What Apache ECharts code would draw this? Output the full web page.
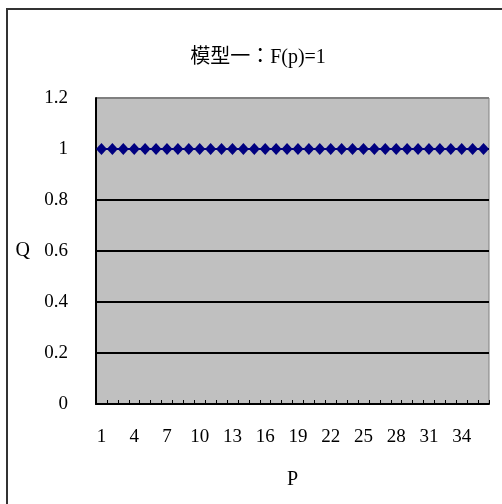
<!DOCTYPE html>
<html>
<head>
<meta charset="utf-8">
<script src="https://cdn.jsdelivr.net/npm/echarts@6/dist/echarts.min.js"></script>
<style>
  html, body { margin: 0; padding: 0; background: #fff; }
  #chart { width: 502px; height: 504px; }
</style>
</head>
<body>
<div id="chart"></div>
<script>
// Model 1: Q is constant at 1 for every P
const titleText = '模型一：F(p)=1';
const categories = ['1','2','3','4','5','6','7','8','9','10','11','12','13','14','15','16','17','18',
  '19','20','21','22','23','24','25','26','27','28','29','30','31','32','33','34','35','36'];
const qValues = [1,1,1,1,1,1,1,1,1,1,1,1,1,1,1,1,1,1,1,1,1,1,1,1,1,1,1,1,1,1,1,1,1,1,1,1];
const yMin = 0, yMax = 1.2, yStep = 0.2;
const xName = 'P', yName = 'Q';

const serif = '"Liberation Serif", "Noto Sans CJK TC", serif';
const chart = echarts.init(document.getElementById('chart'), null, { renderer: 'canvas' });

chart.setOption({
  animation: false,
  backgroundColor: '#ffffff',
  title: {
    text: titleText,
    left: 253, top: 43, textAlign: 'center',
    textStyle: { fontFamily: serif, fontSize: 20, fontWeight: 'normal', color: '#000' }
  },
  grid: {
    left: 96, top: 98, right: 13, bottom: 100,
    show: true, backgroundColor: '#c0c0c0', borderColor: '#808080', borderWidth: 1
  },
  xAxis: {
    type: 'category',
    data: categories,
    boundaryGap: true,
    name: xName, nameLocation: 'middle', nameGap: 66,
    nameTextStyle: { fontFamily: serif, fontSize: 20, color: '#000' },
    axisLine: { lineStyle: { color: '#000', width: 2 } },
    axisTick: { show: true, inside: true, interval: 0, length: 4, lineStyle: { color: '#000', width: 1 } },
    axisLabel: { interval: 2, margin: 24, fontFamily: serif, fontSize: 19, color: '#000' },
    splitLine: { show: false }
  },
  yAxis: {
    type: 'value',
    min: yMin, max: yMax, interval: yStep,
    name: yName, nameLocation: 'middle', nameGap: 66, nameRotate: 0,
    nameTextStyle: { fontFamily: serif, fontSize: 20, color: '#000' },
    axisLine: { show: true, lineStyle: { color: '#000', width: 2 } },
    axisTick: { show: false },
    axisLabel: { margin: 28, fontFamily: serif, fontSize: 19, color: '#000' },
    splitLine: { show: true, lineStyle: { color: ['#000','#000','#000','#000','#000','#000','#808080'], width: 2 } }
  },
  series: [{
    type: 'line',
    data: qValues,
    symbol: 'diamond',
    symbolSize: [11, 12],
    showAllSymbol: true,
    itemStyle: { color: '#000080' },
    lineStyle: { color: '#000080', width: 2 }
  }],
  graphic: [{
    type: 'rect',
    shape: { x: 7, y: 9, width: 520, height: 520 },
    style: { fill: 'none', stroke: '#333', lineWidth: 2 },
    silent: true
  }]
});
</script>
</body>
</html>
